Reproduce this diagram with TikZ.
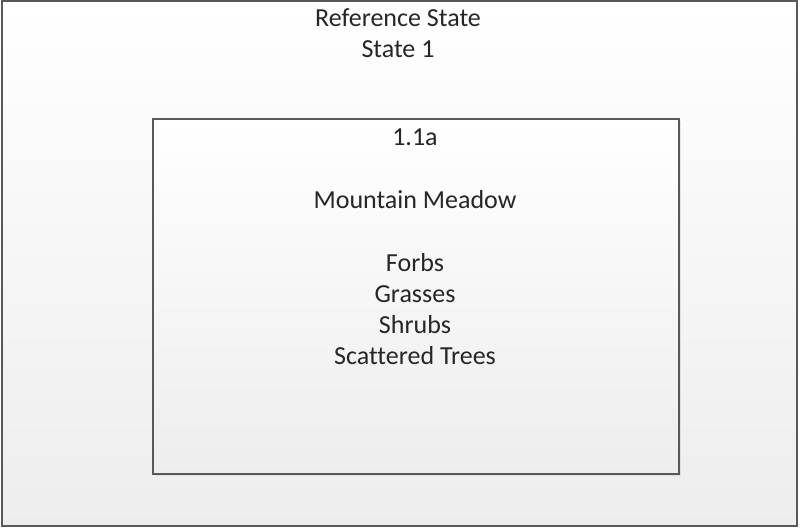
\documentclass[tikz,border=0pt]{standalone}
\usepackage{fontspec}
\setmainfont{Carlito}[Ligatures=CommonOff]
\usetikzlibrary{shadows,positioning}
\tikzstyle{statebox} = [rectangle, draw=black!65, line width=0.75pt, top color=white, bottom color=black!7, inner sep=0pt]
\tikzstyle{phasebox} = [statebox, drop shadow={opacity=0.15, shadow xshift=1pt, shadow yshift=-1pt}]
\tikzstyle{label} = [align=center, anchor=base, inner sep=0pt, font=\fontsize{13}{15.5}\selectfont, text=black!85]

\begin{document}
\begin{tikzpicture}[x=0.5pt, y=-0.5pt]
\useasboundingbox (0,0) rectangle (800,529);

\node (state) [statebox, minimum width=397.5pt, minimum height=262.5pt] at (399.5,263.5) {};
\node (phase) [phasebox, minimum width=263pt, minimum height=177.5pt] at (416,296.5) {};

% base anchor sits on the last line
\node (statename) [label] at (398,58) {Reference State\\State 1};
\node (phasename) [label] at (415,365) {1.1a\\[16pt]Mountain Meadow\\[16pt]Forbs\\Grasses\\Shrubs\\Scattered Trees};

\end{tikzpicture}
\end{document}
